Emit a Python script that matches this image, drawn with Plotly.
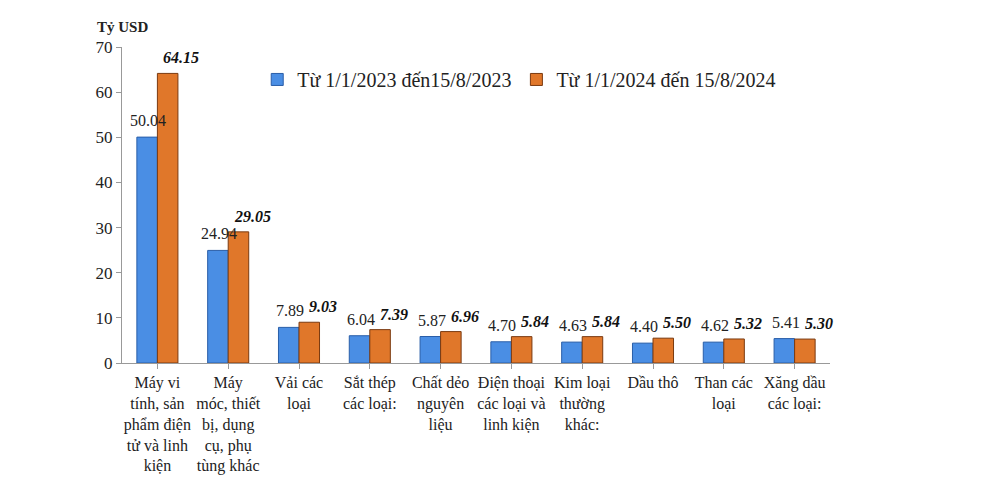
import plotly.graph_objects as go

categories = [
    "Máy vi<br>tính, sản<br>phẩm điện<br>tử và linh<br>kiện",
    "Máy<br>móc, thiết<br>bị, dụng<br>cụ, phụ<br>tùng khác",
    "Vải các<br>loại",
    "Sắt thép<br>các loại:",
    "Chất dẻo<br>nguyên<br>liệu",
    "Điện thoại<br>các loại và<br>linh kiện",
    "Kim loại<br>thường<br>khác:",
    "Dầu thô",
    "Than các<br>loại",
    "Xăng dầu<br>các loại:",
]
values_2023 = [50.04, 24.94, 7.89, 6.04, 5.87, 4.70, 4.63, 4.40, 4.62, 5.41]
values_2024 = [64.15, 29.05, 9.03, 7.39, 6.96, 5.84, 5.84, 5.50, 5.32, 5.30]
name_2023 = "Từ 1/1/2023 đến15/8/2023"
name_2024 = "Từ 1/1/2024 đến 15/8/2024"
y_ticks = [0, 10, 20, 30, 40, 50, 60, 70]

FONT = "Liberation Serif"
x_idx = list(range(len(categories)))

fig = go.Figure()
fig.add_trace(go.Bar(
    x=x_idx, y=values_2023, name=name_2023,
    marker=dict(color="#4a8ee4", line=dict(color="#2a5ea8", width=1)),
    cliponaxis=False,
))
fig.add_trace(go.Bar(
    x=x_idx, y=values_2024, name=name_2024,
    marker=dict(color="#e0772a", line=dict(color="#7a3a10", width=1)),
    cliponaxis=False,
))

for i, v in zip(x_idx, values_2023):
    fig.add_annotation(
        x=i, y=v, xref="x", yref="y", text=f"{v:.2f}",
        showarrow=False, xanchor="center", yanchor="bottom",
        xshift=-9, yshift=6, font=dict(family=FONT, size=16, color="#222"),
    )
for i, v in zip(x_idx, values_2024):
    fig.add_annotation(
        x=i, y=v, xref="x", yref="y", text=f"<b><i>{v:.2f}</i></b>",
        showarrow=False, xanchor="center", yanchor="bottom",
        xshift=24, yshift=5, font=dict(family=FONT, size=16, color="#111"),
    )

fig.add_annotation(
    xref="paper", yref="paper", x=-0.038, y=1.063, xanchor="left", yanchor="middle",
    text="<b>Tỷ USD</b>", showarrow=False, font=dict(family=FONT, size=15, color="#222"),
)

fig.update_layout(
    width=1000, height=496,
    margin=dict(l=114, r=178, t=39, b=141, autoexpand=False),
    paper_bgcolor="white", plot_bgcolor="white",
    bargap=0.42, bargroupgap=0,
    font=dict(family=FONT, size=16, color="#222"),
    legend=dict(
        orientation="h", x=0.191, y=0.959, xanchor="left", yanchor="top",
        font=dict(family=FONT, size=20, color="#222"), bgcolor="rgba(0,0,0,0)",
        itemwidth=30, tracegroupgap=0,
    ),
    showlegend=True,
)
fig.update_xaxes(
    tickmode="array", tickvals=x_idx, ticktext=categories,
    range=[-0.5, len(categories) - 0.5], automargin=False,
    showline=True, linecolor="#999", linewidth=1,
    ticks="outside", tickson="boundaries", ticklen=5, tickcolor="#999",
    tickfont=dict(family=FONT, size=16, color="#222"),
    showgrid=False, zeroline=False,
)
fig.update_yaxes(
    range=[0, 70], tickvals=y_ticks, automargin=False,
    showline=True, linecolor="#999", linewidth=1,
    ticks="outside", ticklen=5, tickcolor="#999",
    tickfont=dict(family=FONT, size=17, color="#222"),
    showgrid=False, zeroline=False,
)

fig.write_html("out.html")
